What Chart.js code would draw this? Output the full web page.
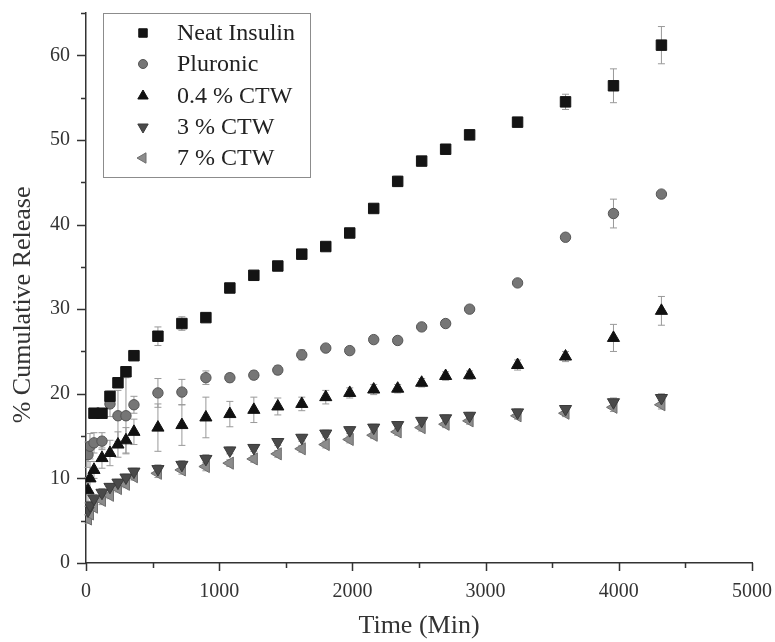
<!DOCTYPE html>
<html>
<head>
<meta charset="utf-8">
<script src="https://cdn.jsdelivr.net/npm/chart.js@4/dist/chart.umd.min.js"></script>
<style>
  html, body { margin: 0; padding: 0; background: #fff; }
  #c { display: block; }
</style>
</head>
<body>
<canvas id="c" width="775" height="642"></canvas>
<script>
// ---- data ----
const times = [15, 30, 60, 120, 180, 240, 300, 360, 540, 720, 900, 1080, 1260, 1440, 1620, 1800, 1980, 2160, 2340, 2520, 2700, 2880, 3240, 3600, 3960, 4320];

const neatInsulin = [null, null, 17.7, 17.7, 19.7, 21.3, 22.6, 24.5, 26.8, 28.3, 29.0, 32.5, 34.0, 35.1, 36.5, 37.4, 39.0, 41.9, 45.1, 47.5, 48.9, 50.6, 52.1, 54.5, 56.4, 61.2];
const neatErr     = [0, 0, 0.3, 0.3, 0.3, 0.5, 0.3, 0.3, 1.1, 0.8, 0.3, 0.4, 0.3, 0.3, 0.3, 0.3, 0.3, 0.4, 0.6, 0.3, 0.3, 0.3, 0.3, 0.9, 2.0, 2.2];

const pluronic    = [12.8, 13.8, 14.2, 14.4, 18.8, 17.4, 17.4, 18.7, 20.1, 20.2, 21.9, 21.9, 22.2, 22.8, 24.6, 25.4, 25.1, 26.4, 26.3, 27.9, 28.3, 30.0, 33.1, 38.5, 41.3, 43.6];
const pluronicErr = [1.5, 1.5, 1.2, 1.0, 1.5, 3.0, 4.5, 1.0, 1.7, 1.5, 0.8, 0.5, 0.5, 0.5, 0.6, 0.4, 0.4, 0.4, 0.4, 0.4, 0.4, 0.4, 0.3, 0.3, 1.7, 0.3];

const ctw04       = [8.6, 10.0, 11.0, 12.4, 13.0, 14.0, 14.5, 15.5, 16.0, 16.3, 17.2, 17.6, 18.1, 18.5, 18.8, 19.6, 20.1, 20.5, 20.6, 21.3, 22.1, 22.2, 23.4, 24.4, 26.6, 29.8];
const ctw04Err    = [1.5, 2.0, 1.0, 1.2, 1.5, 1.5, 1.5, 1.5, 2.8, 2.4, 2.4, 1.5, 1.5, 1.0, 0.8, 0.8, 0.6, 0.6, 0.5, 0.5, 0.5, 0.5, 0.6, 0.6, 1.6, 1.7];

const ctw3        = [6.2, 6.8, 7.6, 8.3, 9.0, 9.5, 10.1, 10.8, 11.1, 11.6, 12.3, 13.3, 13.6, 14.3, 14.8, 15.3, 15.7, 16.0, 16.3, 16.8, 17.1, 17.4, 17.8, 18.2, 19.0, 19.5];
const ctw3Err     = [0.5, 0.5, 0.5, 0.5, 0.4, 0.4, 0.4, 0.4, 0.5, 0.5, 0.5, 0.4, 0.4, 0.4, 0.4, 0.4, 0.4, 0.4, 0.4, 0.4, 0.4, 0.4, 0.4, 0.4, 0.5, 0.5];

const ctw7        = [5.2, 5.8, 6.6, 7.4, 8.0, 8.8, 9.3, 10.2, 10.6, 11.0, 11.4, 11.8, 12.3, 12.9, 13.5, 14.0, 14.6, 15.1, 15.5, 16.0, 16.4, 16.8, 17.4, 17.7, 18.4, 18.7];
const ctw7Err     = [0.5, 0.5, 0.5, 0.5, 0.4, 0.4, 0.4, 0.4, 0.5, 0.5, 0.5, 0.4, 0.4, 0.4, 0.4, 0.4, 0.4, 0.4, 0.4, 0.4, 0.4, 0.4, 0.4, 0.4, 0.5, 0.5];

const seriesNames = ['Neat Insulin', 'Pluronic', '0.4 % CTW', '3 % CTW', '7 % CTW'];
const xTickValues = [0, 1000, 2000, 3000, 4000, 5000];
const yTickValues = [0, 10, 20, 30, 40, 50, 60];
const xTitle = 'Time (Min)';
const yTitle = '% Cumulative Release';

// ---- helpers ----
function pts(vals) {
  const out = [];
  vals.forEach((v, i) => { if (v !== null) out.push({ x: times[i], y: v }); });
  return out;
}
function errs(vals, e) {
  const out = [];
  vals.forEach((v, i) => { if (v !== null) out.push(e[i]); });
  return out;
}

const FONT = "'Liberation Serif', 'DejaVu Serif', serif";

const datasets = [
  { label: seriesNames[0], data: pts(neatInsulin), errors: errs(neatInsulin, neatErr),
    pointStyle: 'rect', pointRadius: 7.4, backgroundColor: '#141414', borderColor: '#141414', borderWidth: 1, rot: 0 },
  { label: seriesNames[1], data: pts(pluronic), errors: errs(pluronic, pluronicErr),
    pointStyle: 'circle', pointRadius: 5.2, backgroundColor: '#767676', borderColor: '#555555', borderWidth: 1, rot: 0 },
  { label: seriesNames[2], data: pts(ctw04), errors: errs(ctw04, ctw04Err),
    pointStyle: 'triangle', pointRadius: 7, backgroundColor: '#111111', borderColor: '#111111', borderWidth: 1, rot: 0 },
  { label: seriesNames[3], data: pts(ctw3), errors: errs(ctw3, ctw3Err),
    pointStyle: 'triangle', pointRadius: 7, rotation: 180, backgroundColor: '#4a4a4a', borderColor: '#3a3a3a', borderWidth: 1, rot: 180 },
  { label: seriesNames[4], data: pts(ctw7), errors: errs(ctw7, ctw7Err),
    pointStyle: 'triangle', pointRadius: 7, rotation: 270, backgroundColor: '#8c8c8c', borderColor: '#6e6e6e', borderWidth: 1, rot: 270 }
];

// error bars drawn through the scales
const errorBarPlugin = {
  id: 'errorBars',
  beforeDatasetsDraw(chart) {
    const ctx = chart.ctx;
    const ys = chart.scales.y;
    ctx.save();
    ctx.strokeStyle = '#999999';
    ctx.lineWidth = 1;
    chart.data.datasets.forEach((ds, di) => {
      const meta = chart.getDatasetMeta(di);
      meta.data.forEach((el, i) => {
        const e = ds.errors[i];
        if (!e) return;
        const v = ds.data[i].y;
        const px = el.x;
        const top = ys.getPixelForValue(v + e);
        const bot = ys.getPixelForValue(v - e);
        ctx.beginPath();
        ctx.moveTo(px, top); ctx.lineTo(px, bot);
        ctx.moveTo(px - 3.5, top); ctx.lineTo(px + 3.5, top);
        ctx.moveTo(px - 3.5, bot); ctx.lineTo(px + 3.5, bot);
        ctx.stroke();
      });
    });
    ctx.restore();
  }
};

// outward tick marks (major + minor) and the rotated y-axis title
const tickPlugin = {
  id: 'outTicks',
  afterDraw(chart) {
    const ctx = chart.ctx;
    const xs = chart.scales.x, ys = chart.scales.y;
    const area = chart.chartArea;
    ctx.save();
    ctx.strokeStyle = '#333';
    ctx.lineWidth = 1.5;
    ctx.beginPath();
    for (let v = 0; v <= 65; v += 5) {
      const py = Math.round(ys.getPixelForValue(v)) + 0.5;
      const len = (v % 10 === 0) ? 9 : 5;
      ctx.moveTo(area.left, py); ctx.lineTo(area.left - len, py);
    }
    for (let v = 0; v <= 5000; v += 500) {
      const px = Math.round(xs.getPixelForValue(v)) + 0.5;
      const len = (v % 1000 === 0) ? 8 : 5;
      ctx.moveTo(px, area.bottom); ctx.lineTo(px, area.bottom + len);
    }
    ctx.stroke();
    // y title, centred a little below the middle of the axis like the reference
    ctx.translate(23, ys.getPixelForValue(30.5));
    ctx.rotate(-Math.PI / 2);
    ctx.font = '26px ' + FONT;
    ctx.fillStyle = '#333';
    ctx.textAlign = 'center';
    ctx.textBaseline = 'middle';
    ctx.fillText(yTitle, 0, 0);
    ctx.restore();
  }
};

// boxed legend inside the plot
const legendPlugin = {
  id: 'boxLegend',
  afterDraw(chart) {
    const ctx = chart.ctx;
    ctx.save();
    ctx.strokeStyle = '#8c8c8c';
    ctx.lineWidth = 1;
    ctx.strokeRect(103.5, 13.5, 207, 164);
    const rows = [33, 64, 96, 127, 158];
    ctx.font = '24px ' + FONT;
    ctx.textBaseline = 'middle';
    ctx.textAlign = 'left';
    chart.data.datasets.forEach((ds, i) => {
      ctx.fillStyle = ds.backgroundColor;
      ctx.strokeStyle = ds.borderColor;
      ctx.lineWidth = 1;
      Chart.helpers.drawPoint(ctx, {
        pointStyle: ds.pointStyle, radius: ds.pointStyle === 'circle' ? 4.5 : 6,
        rotation: ds.rot, borderWidth: 1
      }, 143, rows[i]);
      ctx.fillStyle = '#222';
      ctx.fillText(ds.label, 177, rows[i] + 1);
    });
    ctx.restore();
  }
};

new Chart(document.getElementById('c'), {
  type: 'scatter',
  data: { datasets },
  options: {
    responsive: false,
    devicePixelRatio: 1,
    animation: false,
    layout: { padding: { left: 0, right: 23, top: 13, bottom: 0 } },
    plugins: { legend: { display: false }, tooltip: { enabled: false } },
    scales: {
      x: {
        type: 'linear', min: 0, max: 5000,
        afterBuildTicks(s) { s.ticks = xTickValues.map(v => ({ value: v })); },
        afterFit(s) { s.height = 79; s.paddingLeft = 0; s.paddingRight = 0; },
        grid: { display: false, drawTicks: false },
        border: { display: true, color: '#333', width: 1.5 },
        ticks: { padding: 17, color: '#333', font: { family: FONT, size: 20 }, maxRotation: 0,
                 callback: v => String(v) },
        title: { display: true, text: xTitle, color: '#333', font: { family: FONT, size: 26 }, padding: { top: 0, bottom: 0 } }
      },
      y: {
        type: 'linear', min: 0, max: 65,
        afterBuildTicks(s) { s.ticks = yTickValues.map(v => ({ value: v })); },
        afterFit(s) { s.width = 86; s.paddingTop = 0; s.paddingBottom = 0; },
        grid: { display: false, drawTicks: false },
        border: { display: true, color: '#333', width: 1.5 },
        ticks: { padding: 16, color: '#333', font: { family: FONT, size: 20 }, callback: v => String(v) },
        title: { display: false }
      }
    }
  },
  plugins: [errorBarPlugin, tickPlugin, legendPlugin]
});
</script>
</body>
</html>
